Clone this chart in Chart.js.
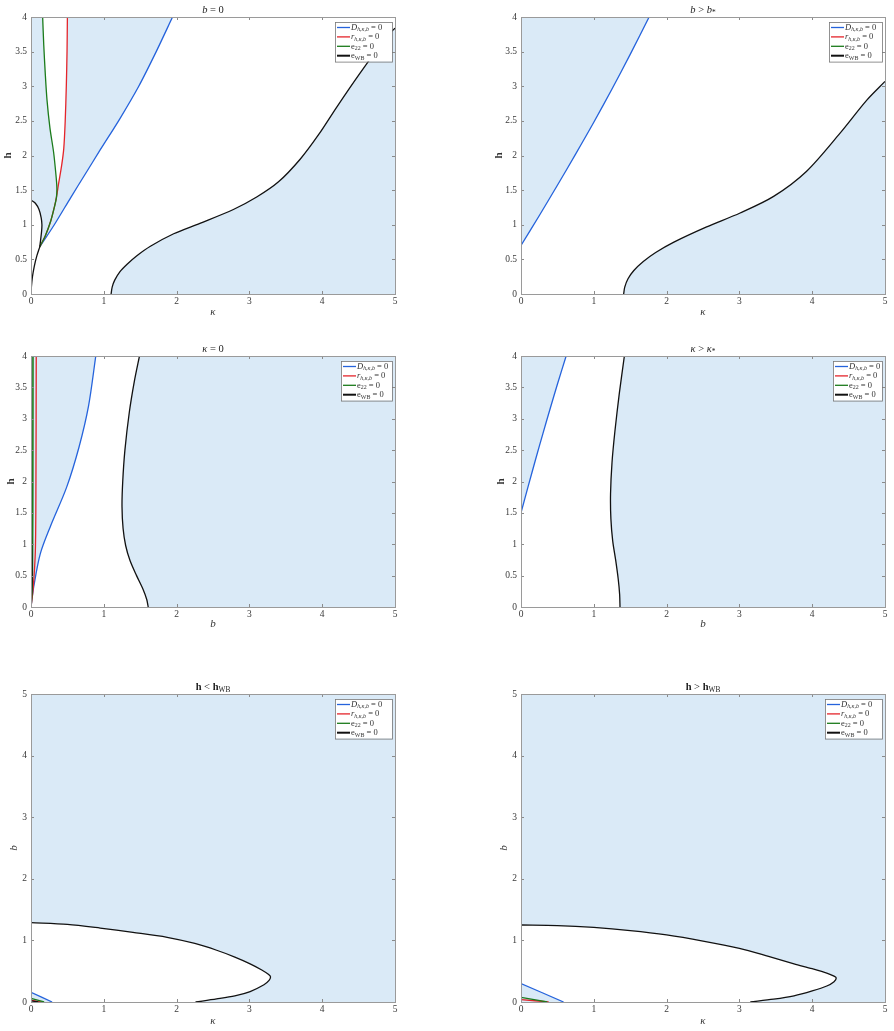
<!DOCTYPE html>
<html>
<head>
<meta charset="utf-8">
<script src="https://cdn.jsdelivr.net/npm/chart.js@4.4.0/dist/chart.umd.min.js"></script>
<style>
  body { margin: 0; background: #fff; }
  canvas { position: absolute; }
</style>
</head>
<body>
<canvas id="c1" width="400" height="320" style="left:0;top:0"></canvas>
<canvas id="c2" width="404" height="320" style="left:490px;top:0"></canvas>
<canvas id="c3" width="400" height="303" style="left:0;top:330px"></canvas>
<canvas id="c4" width="404" height="303" style="left:490px;top:330px"></canvas>
<canvas id="c5" width="400" height="368" style="left:0;top:660px"></canvas>
<canvas id="c6" width="404" height="368" style="left:490px;top:660px"></canvas>
<script>
// axis limits
const kMax = 5, hMax = 4, bMax = 5;

// panel 1: b = 0   (kappa, h)
const p1Stem = [[0,0],[0.005,0.1],[0.02,0.25],[0.045,0.4],[0.08,0.55],[0.12,0.68]];
const p1Blue = [[0.12,0.68],[0.32,1.0],[0.55,1.4],[0.75,1.74],[0.95,2.08],[1.22,2.53],[1.48,3.0],[1.72,3.5],[1.944,4]];
const p1Red = [[0.12,0.68],[0.2,0.85],[0.27,1.05],[0.32,1.25],[0.35,1.4],[0.38,1.6],[0.42,1.85],[0.45,2.1],[0.47,2.5],[0.485,3],[0.495,3.5],[0.5,4]];
const p1Green = [[0.12,0.68],[0.2,0.85],[0.27,1.05],[0.32,1.25],[0.35,1.4],[0.355,1.55],[0.34,1.75],[0.31,2.05],[0.26,2.4],[0.22,2.8],[0.195,3.2],[0.175,3.6],[0.16,4]];
const p1BlackSmall = [[0,1.357],[0.06,1.31],[0.11,1.22],[0.14,1.1],[0.15,1.0],[0.145,0.9],[0.132,0.78],[0.12,0.68]];
const p1Black = [[1.1,0],[1.115,0.1],[1.15,0.2],[1.22,0.32],[1.32,0.43],[1.45,0.55],[1.64,0.69],[1.96,0.87],[2.32,1.02],[2.78,1.22],[3.1,1.4],[3.4,1.62],[3.7,1.95],[3.95,2.3],[4.2,2.7],[4.52,3.19],[4.89,3.72],[5.0,3.84]];

// panel 2: b > b*   (kappa, h)
const p2Blue = [[0,0.7],[0.25,1.13],[0.5,1.57],[0.75,2.02],[1.0,2.48],[1.25,2.96],[1.5,3.46],[1.76,4.0]];
const p2Black = [[1.41,0],[1.425,0.1],[1.47,0.22],[1.55,0.34],[1.68,0.47],[1.85,0.6],[2.1,0.75],[2.55,0.97],[3.01,1.17],[3.47,1.41],[3.92,1.77],[4.38,2.32],[4.75,2.8],[5.0,3.07]];

// panel 3: kappa = 0   (b, h)
const p3Blue = [[0,0],[0.037,0.32],[0.128,0.85],[0.265,1.28],[0.49,1.91],[0.66,2.55],[0.79,3.2],[0.89,4]];
const p3Black = [[1.61,0],[1.59,0.12],[1.54,0.28],[1.45,0.5],[1.36,0.74],[1.3,0.98],[1.265,1.25],[1.25,1.6],[1.26,2.0],[1.29,2.5],[1.35,3.1],[1.42,3.6],[1.49,4]];
const p3Green = [[0,0],[0.015,0.3],[0.022,1],[0.025,2],[0.027,4]];
const p3Red = [[0,0],[0.03,0.3],[0.06,0.9],[0.068,2],[0.072,4]];
const p3BlackSmall = [[0,1.36],[0.01,0.9],[0.015,0.5],[0.008,0.2],[0,0]];

// panel 4: kappa > kappa*   (b, h)
const p4Blue = [[0,1.5],[0.1,1.93],[0.2,2.35],[0.3,2.76],[0.4,3.16],[0.5,3.55],[0.62,4.0]];
const p4Black = [[1.36,0],[1.355,0.2],[1.335,0.45],[1.3,0.75],[1.26,1.05],[1.235,1.4],[1.23,1.8],[1.25,2.3],[1.29,2.8],[1.35,3.4],[1.42,4]];

// panel 5: h < hWB   (kappa, b)
const p5Black = [[0,1.29],[0.5,1.26],[0.95,1.2],[1.4,1.13],[1.87,1.05],[2.25,0.95],[2.55,0.84],[2.8,0.73],[3.01,0.62],[3.17,0.52],[3.26,0.45],[3.29,0.41],[3.27,0.35],[3.2,0.28],[3.01,0.17],[2.8,0.1],[2.55,0.05],[2.26,0]];
const p5Blue = [[0,0.157],[0.29,0]];
const p5Green = [[0,0.06],[0.18,0]];
const p5Red = [[0,0.03],[0.14,0]];
const p5BlackSmall = [[0,0.02],[0.1,0]];

// panel 6: h > hWB   (kappa, b)
const p6Black = [[0,1.25],[0.5,1.24],[1.0,1.21],[1.5,1.16],[2.0,1.09],[2.5,0.99],[3.0,0.87],[3.4,0.74],[3.75,0.62],[4.0,0.54],[4.2,0.47],[4.3,0.42],[4.33,0.39],[4.3,0.33],[4.2,0.26],[4.0,0.18],[3.75,0.1],[3.47,0.045],[3.15,0]];
const p6Blue = [[0,0.3],[0.585,0]];
const p6Green = [[0,0.076],[0.36,0]];
const p6Red = [[0,0.04],[0.38,0]];

const legendLabels = [
  [['D','i'],['h,κ,b','si'],[' = 0','']],
  [['r','i'],['h,κ,b','si'],[' = 0','']],
  [['e',''],['22','s'],[' = 0','']],
  [['e',''],['WB','s'],[' = 0','']]
];

const blue = '#2563dc', red = '#e4252b', green = '#1b7b1b', black = '#111111';
const legendColors = [blue, red, green, black];
const shade = '#daeaf7';
const serif = '"Liberation Serif", "DejaVu Serif", serif';

function pts(a) { return a.map(p => ({ x: p[0], y: p[1] })); }
const rev = a => a.slice().reverse();

// glue curve pieces into a closed outline; the end points are doubled so corners stay sharp
function outline(...parts) {
  let out = [];
  parts.forEach(p => { out = out.concat([p[0]], p, [p[p.length - 1]]); });
  return out;
}

function curve(data, color, order, width) {
  return { data: pts(data), borderColor: color, borderWidth: width || 1.3, pointRadius: 0,
    fill: false, tension: 0.3, order: order };
}
function region(data, color, order) {
  return { data: pts(data), borderWidth: 0, borderColor: 'rgba(0,0,0,0)', backgroundColor: color,
    pointRadius: 0, fill: 'shape', tension: 0.3, order: order };
}

function drawRich(ctx, segs, x, y, size, align) {
  const fontFor = st => {
    const sz = st.includes('s') ? size * 0.7 : size;
    return (st.includes('i') ? 'italic ' : '') + (st.includes('b') ? 'bold ' : '') + sz + 'px ' + serif;
  };
  let w = 0;
  segs.forEach(([t, st]) => { ctx.font = fontFor(st); w += ctx.measureText(t).width; });
  let cx = align === 'left' ? x : x - w / 2;
  ctx.textBaseline = 'middle';
  ctx.textAlign = 'left';
  segs.forEach(([t, st]) => {
    ctx.font = fontFor(st);
    ctx.fillText(t, cx, st.includes('s') ? y + size * 0.28 : y);
    cx += ctx.measureText(t).width;
  });
}

const panelPlugin = {
  id: 'panel',
  beforeDatasetsDraw(chart) {
    const a = chart.chartArea, ctx = chart.ctx;
    ctx.save();
    ctx.fillStyle = shade;
    ctx.fillRect(a.left, a.top, a.right - a.left, a.bottom - a.top);
    ctx.restore();
  },
  afterDraw(chart) {
    const a = chart.chartArea, ctx = chart.ctx, cfg = chart.config.options.panelCfg;
    ctx.save();
    // ticks pointing inwards, on all four sides
    ctx.strokeStyle = '#8a8a8a';
    ctx.lineWidth = 1;
    const xs = chart.scales.x, ys = chart.scales.y;
    ctx.beginPath();
    xs.ticks.forEach(t => {
      const px = Math.round(xs.getPixelForValue(t.value)) + 0.5;
      ctx.moveTo(px, a.bottom); ctx.lineTo(px, a.bottom - 3);
      ctx.moveTo(px, a.top); ctx.lineTo(px, a.top + 3);
    });
    ys.ticks.forEach(t => {
      const py = Math.round(ys.getPixelForValue(t.value)) + 0.5;
      ctx.moveTo(a.left, py); ctx.lineTo(a.left + 3, py);
      ctx.moveTo(a.right, py); ctx.lineTo(a.right - 3, py);
    });
    ctx.stroke();
    ctx.strokeStyle = '#9a9a9a';
    ctx.strokeRect(Math.round(a.left) + 0.5, Math.round(a.top) + 0.5, Math.round(a.right - a.left), Math.round(a.bottom - a.top));

    // title
    ctx.fillStyle = '#222';
    drawRich(ctx, cfg.title, (a.left + a.right) / 2, a.top - 7, 10.5, 'center');

    // legend
    const lw = cfg.legendW, rowH = 9.4;
    const lx = a.right - 3 - lw, ly = a.top + 5;
    ctx.fillStyle = '#fff';
    ctx.fillRect(lx, ly, lw, rowH * 4 + 2);
    ctx.strokeStyle = '#777';
    ctx.lineWidth = 0.8;
    ctx.strokeRect(lx + 0.5, ly + 0.5, lw, rowH * 4 + 2);
    legendLabels.forEach((lab, i) => {
      const yy = ly + 5.5 + i * rowH;
      ctx.strokeStyle = legendColors[i];
      ctx.lineWidth = i === 3 ? 2 : 1.3;
      ctx.beginPath();
      ctx.moveTo(lx + 2, yy); ctx.lineTo(lx + 15, yy);
      ctx.stroke();
      ctx.fillStyle = '#333';
      drawRich(ctx, lab, lx + 16, yy, 8.5, 'left');
    });
    ctx.restore();
  }
};

function makeChart(id, cfg, datasets) {
  const tickFont = { family: serif, size: 9.5 };
  return new Chart(document.getElementById(id), {
    type: 'line',
    data: { datasets: datasets },
    plugins: [panelPlugin],
    options: {
      panelCfg: cfg,
      responsive: false,
      animation: false,
      events: [],
      layout: { padding: cfg.pad },
      plugins: { legend: { display: false }, tooltip: { enabled: false }, filler: { propagate: false } },
      scales: {
        x: {
          type: 'linear', min: 0, max: cfg.xMax,
          ticks: { stepSize: 1, font: tickFont, color: '#3a3a3a', padding: 2, maxRotation: 0, callback: v => String(v) },
          grid: { display: false, drawTicks: false }, border: { display: false },
          title: { display: true, text: cfg.xTitle, color: '#333', font: { family: serif, size: 11, style: cfg.xStyle },
            padding: { top: 0, bottom: cfg.xTitlePad } },
          afterFit: s => { s.height = 26; }
        },
        y: {
          type: 'linear', min: 0, max: cfg.yMax,
          ticks: { stepSize: cfg.yStep, font: tickFont, color: '#3a3a3a', padding: 4, callback: v => String(v) },
          grid: { display: false, drawTicks: false }, border: { display: false },
          title: { display: true, text: cfg.yTitle, color: '#333', font: { family: serif, size: 11, style: cfg.yStyle, weight: cfg.yWeight },
            padding: { top: cfg.yTitlePad, bottom: 0 } },
          afterFit: s => { s.width = 31; }
        }
      }
    }
  });
}

// panel 1
makeChart('c1', {
  pad: { left: 0, top: 17, right: 5, bottom: 0 }, xMax: kMax, yMax: hMax, yStep: 0.5,
  xTitle: 'κ', xStyle: 'italic', xTitlePad: 1, yTitle: 'h', yStyle: 'normal', yWeight: 'bold', yTitlePad: 2,
  title: [['b', 'i'], [' = 0', '']], legendW: 57
}, [
  curve(p1BlackSmall, black, 0), curve(p1Stem, black, 0), curve(p1Black, black, 0),
  curve(p1Green, green, 1), curve(p1Red, red, 1), curve(p1Blue, blue, 1),
  region(outline(p1Green.slice(4), rev(p1Red.slice(4))), '#ffffff', 3),
  region(outline(p1Stem, rev(p1BlackSmall)), '#ffffff', 3),
  region(outline(p1Stem, p1Blue, [[kMax, hMax]], rev(p1Black)), '#ffffff', 3)
]);

// panel 2
makeChart('c2', {
  pad: { left: 0, top: 17, right: 9, bottom: 0 }, xMax: kMax, yMax: hMax, yStep: 0.5,
  xTitle: 'κ', xStyle: 'italic', xTitlePad: 1, yTitle: 'h', yStyle: 'normal', yWeight: 'bold', yTitlePad: 3,
  title: [['b', 'i'], [' > ', ''], ['b', 'i'], ['*', 's']], legendW: 53
}, [
  curve(p2Black, black, 0), curve(p2Blue, blue, 1),
  region(outline([[0, 0]], p2Blue, [[kMax, hMax]], rev(p2Black)), '#ffffff', 3)
]);

// panel 3
makeChart('c3', {
  pad: { left: 0, top: 26, right: 5, bottom: 0 }, xMax: bMax, yMax: hMax, yStep: 0.5,
  xTitle: 'b', xStyle: 'italic', xTitlePad: 2, yTitle: 'h', yStyle: 'normal', yWeight: 'bold', yTitlePad: 5,
  title: [['κ', 'i'], [' = 0', '']], legendW: 51
}, [
  curve(p3BlackSmall, black, 0), curve(p3Black, black, 0),
  curve(p3Green, green, 1, 1.6), curve(p3Red, red, 1), curve(p3Blue, blue, 1),
  region(outline(p3Blue, rev(p3Black)), '#ffffff', 3)
]);

// panel 4
makeChart('c4', {
  pad: { left: 0, top: 26, right: 9, bottom: 0 }, xMax: bMax, yMax: hMax, yStep: 0.5,
  xTitle: 'b', xStyle: 'italic', xTitlePad: 2, yTitle: 'h', yStyle: 'normal', yWeight: 'bold', yTitlePad: 5,
  title: [['κ', 'i'], [' > ', ''], ['κ', 'i'], ['*', 's']], legendW: 49
}, [
  curve(p4Black, black, 0), curve(p4Blue, blue, 1),
  region(outline([[0, 0]], p4Blue, rev(p4Black)), '#ffffff', 3)
]);

// panel 5
makeChart('c5', {
  pad: { left: 0, top: 34, right: 5, bottom: 0 }, xMax: kMax, yMax: bMax, yStep: 1,
  xTitle: 'κ', xStyle: 'italic', xTitlePad: 0, yTitle: 'b', yStyle: 'italic', yWeight: 'normal', yTitlePad: 8,
  title: [['h', 'b'], [' < ', ''], ['h', 'b'], ['WB', 's']], legendW: 57
}, [
  curve(p5BlackSmall, black, 0), curve(p5Black, black, 0),
  curve(p5Green, green, 1), curve(p5Red, red, 1), curve(p5Blue, blue, 1),
  region(outline(p5Blue, [[0, 0]]), shade, 2),
  region(outline(p5Black, [[0, 0]]), '#ffffff', 3)
]);

// panel 6
makeChart('c6', {
  pad: { left: 0, top: 34, right: 9, bottom: 0 }, xMax: kMax, yMax: bMax, yStep: 1,
  xTitle: 'κ', xStyle: 'italic', xTitlePad: 0, yTitle: 'b', yStyle: 'italic', yWeight: 'normal', yTitlePad: 8,
  title: [['h', 'b'], [' > ', ''], ['h', 'b'], ['WB', 's']], legendW: 57
}, [
  curve(p6Black, black, 0),
  curve(p6Green, green, 1), curve(p6Red, red, 1), curve(p6Blue, blue, 1),
  region(outline(p6Blue, [[0, 0]]), shade, 2),
  region(outline(p6Black, [[0, 0]]), '#ffffff', 3)
]);
</script>
</body>
</html>
